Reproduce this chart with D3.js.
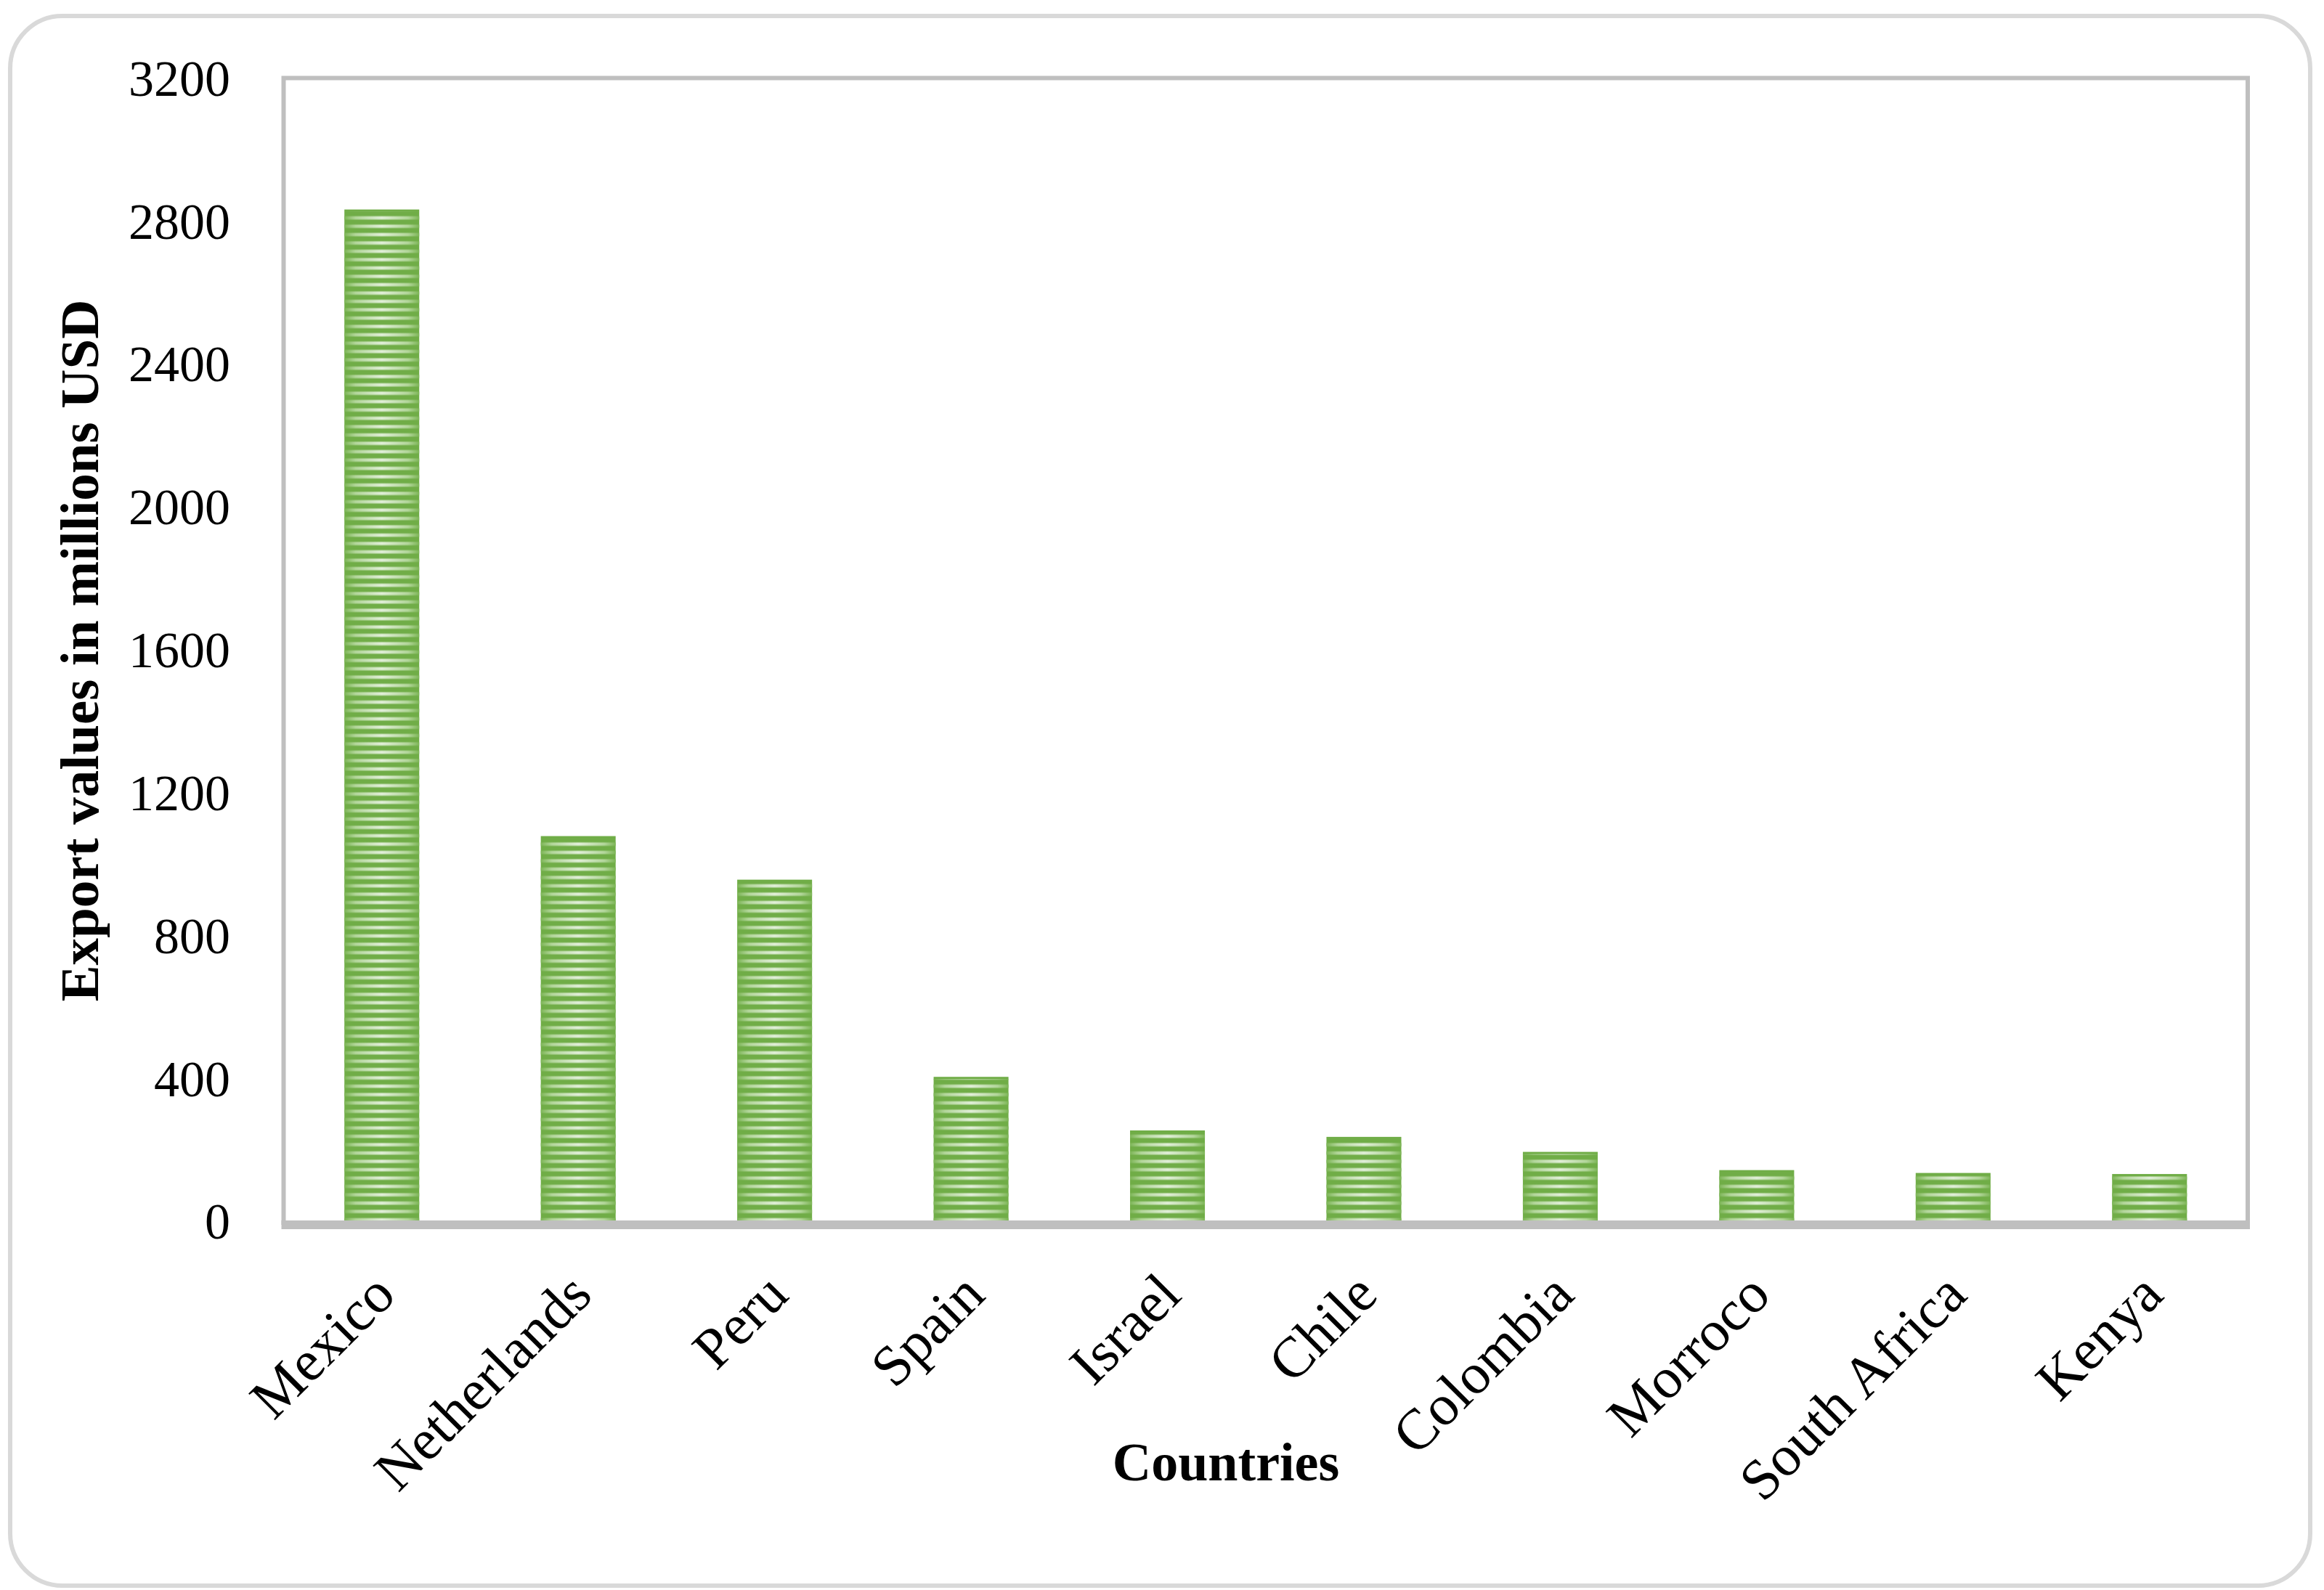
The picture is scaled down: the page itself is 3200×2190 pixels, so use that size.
<!DOCTYPE html>
<html>
<head>
<meta charset="utf-8">
<script src="https://cdn.jsdelivr.net/npm/d3@7"></script>
<style>
  html, body { margin: 0; padding: 0; background: #ffffff; }
  svg { display: block; }
</style>
</head>
<body>
<svg id="chart" width="3200" height="2190"></svg>
<script>
const countries = ["Mexico", "Netherlands", "Peru", "Spain", "Israel", "Chile", "Colombia", "Morroco", "South Africa", "Kenya"];
const exportValues = [2832, 1078, 956, 404, 254, 236, 194, 143, 135, 132];
const yTicks = [0, 400, 800, 1200, 1600, 2000, 2400, 2800, 3200];
const yTitle = "Export values in millions USD";
const xTitle = "Countries";

const svg = d3.select("#chart");
const W = 3200, H = 2190;
const plot = { left: 390.5, right: 3095, top: 107.5, bottom: 1682 };
const period = 11.5;

svg.append("rect").attr("width", W).attr("height", H).attr("fill", "#ffffff");

// outer rounded frame
svg.append("rect")
  .attr("x", 14).attr("y", 22).attr("width", 3167).attr("height", 2162)
  .attr("rx", 72).attr("ry", 72)
  .attr("fill", "#ffffff").attr("stroke", "#d9d9d9").attr("stroke-width", 6);

const defs = svg.append("defs");
const hg = defs.append("linearGradient").attr("id", "hgrad")
  .attr("x1", 0).attr("y1", 0).attr("x2", 1).attr("y2", 0);
[[0, "#7db557"], [0.15, "#b3d69b"], [0.5, "#e2efda"], [0.85, "#b3d69b"], [1, "#7db557"]]
  .forEach(([o, c]) => hg.append("stop").attr("offset", o).attr("stop-color", c));

const vg = defs.append("linearGradient").attr("id", "vgrad")
  .attr("x1", 0).attr("y1", 0).attr("x2", 0).attr("y2", 1);
[[0, "#000"], [0.2, "#000"], [0.38, "#fff"], [0.6, "#fff"], [0.78, "#000"], [1, "#000"]]
  .forEach(([o, c]) => vg.append("stop").attr("offset", o).attr("stop-color", c));

const pat = defs.append("pattern").attr("id", "stripes")
  .attr("patternUnits", "userSpaceOnUse")
  .attr("x", 0).attr("y", plot.bottom + 4).attr("width", W).attr("height", period);
pat.append("rect").attr("x", 0).attr("y", 0).attr("width", W).attr("height", period)
  .attr("fill", "url(#vgrad)");

const mask = defs.append("mask").attr("id", "stripeMask")
  .attr("maskUnits", "userSpaceOnUse")
  .attr("x", 0).attr("y", 0).attr("width", W).attr("height", H);
mask.append("rect").attr("x", 0).attr("y", 0).attr("width", W).attr("height", H)
  .attr("fill", "url(#stripes)");

const x = d3.scaleBand().domain(countries)
  .range([plot.left, plot.right])
  .paddingInner(0.619).paddingOuter(0.3095);
const y = d3.scaleLinear().domain([0, 3200]).range([plot.bottom, plot.top]);

// plot area border
svg.append("rect")
  .attr("x", plot.left).attr("y", plot.top)
  .attr("width", plot.right - plot.left).attr("height", 1690 - plot.top)
  .attr("fill", "none").attr("stroke", "#bfbfbf").attr("stroke-width", 6);

// bars
const data = countries.map((c, i) => ({ c, v: exportValues[i] }));
const bars = svg.append("g");
bars.selectAll("rect.base").data(data).join("rect").attr("class", "base")
  .attr("x", d => x(d.c)).attr("width", x.bandwidth())
  .attr("y", d => y(d.v)).attr("height", d => y(0) - y(d.v))
  .attr("fill", "#70ad47");
bars.selectAll("rect.light").data(data).join("rect").attr("class", "light")
  .attr("x", d => x(d.c)).attr("width", x.bandwidth())
  .attr("y", d => y(d.v) + 3).attr("height", d => Math.max(0, y(0) - y(d.v) - 3))
  .attr("fill", "url(#hgrad)").attr("mask", "url(#stripeMask)");

// x axis line
svg.append("line")
  .attr("x1", plot.left - 3).attr("x2", plot.right + 3)
  .attr("y1", 1684).attr("y2", 1684)
  .attr("stroke", "#bfbfbf").attr("stroke-width", 6);

// y axis tick labels
const yAxis = d3.axisLeft(y).tickValues(yTicks).tickSize(0).tickPadding(0).tickFormat(d3.format("d"));
const yg = svg.append("g").attr("transform", "translate(317,0)").call(yAxis);
yg.select(".domain").remove();
yg.selectAll("text")
  .attr("font-family", "'Liberation Serif', 'Times New Roman', serif")
  .attr("font-size", 70).attr("fill", "#000").attr("dy", "0.34em").attr("x", 0);

// x axis labels
const xAxis = d3.axisBottom(x).tickSize(0).tickPadding(0);
const xg = svg.append("g").call(xAxis);
xg.select(".domain").remove();
xg.selectAll(".tick").attr("transform", d => `translate(${x(d) + x.bandwidth() / 2 + 22},1787)`);
xg.selectAll("text")
  .attr("font-family", "'Liberation Serif', 'Times New Roman', serif")
  .attr("font-size", 79).attr("fill", "#000")
  .attr("y", 0).attr("dy", 0)
  .attr("text-anchor", "end")
  .attr("transform", "rotate(-45)");

// axis titles
svg.append("text")
  .attr("transform", "translate(135,896) rotate(-90)")
  .attr("text-anchor", "middle")
  .attr("font-family", "'Liberation Serif', 'Times New Roman', serif")
  .attr("font-weight", "bold").attr("font-size", 75).attr("fill", "#000")
  .text(yTitle);

svg.append("text")
  .attr("x", 1688).attr("y", 2039)
  .attr("text-anchor", "middle")
  .attr("font-family", "'Liberation Serif', 'Times New Roman', serif")
  .attr("font-weight", "bold").attr("font-size", 74).attr("fill", "#000")
  .text(xTitle);
</script>
</body>
</html>
